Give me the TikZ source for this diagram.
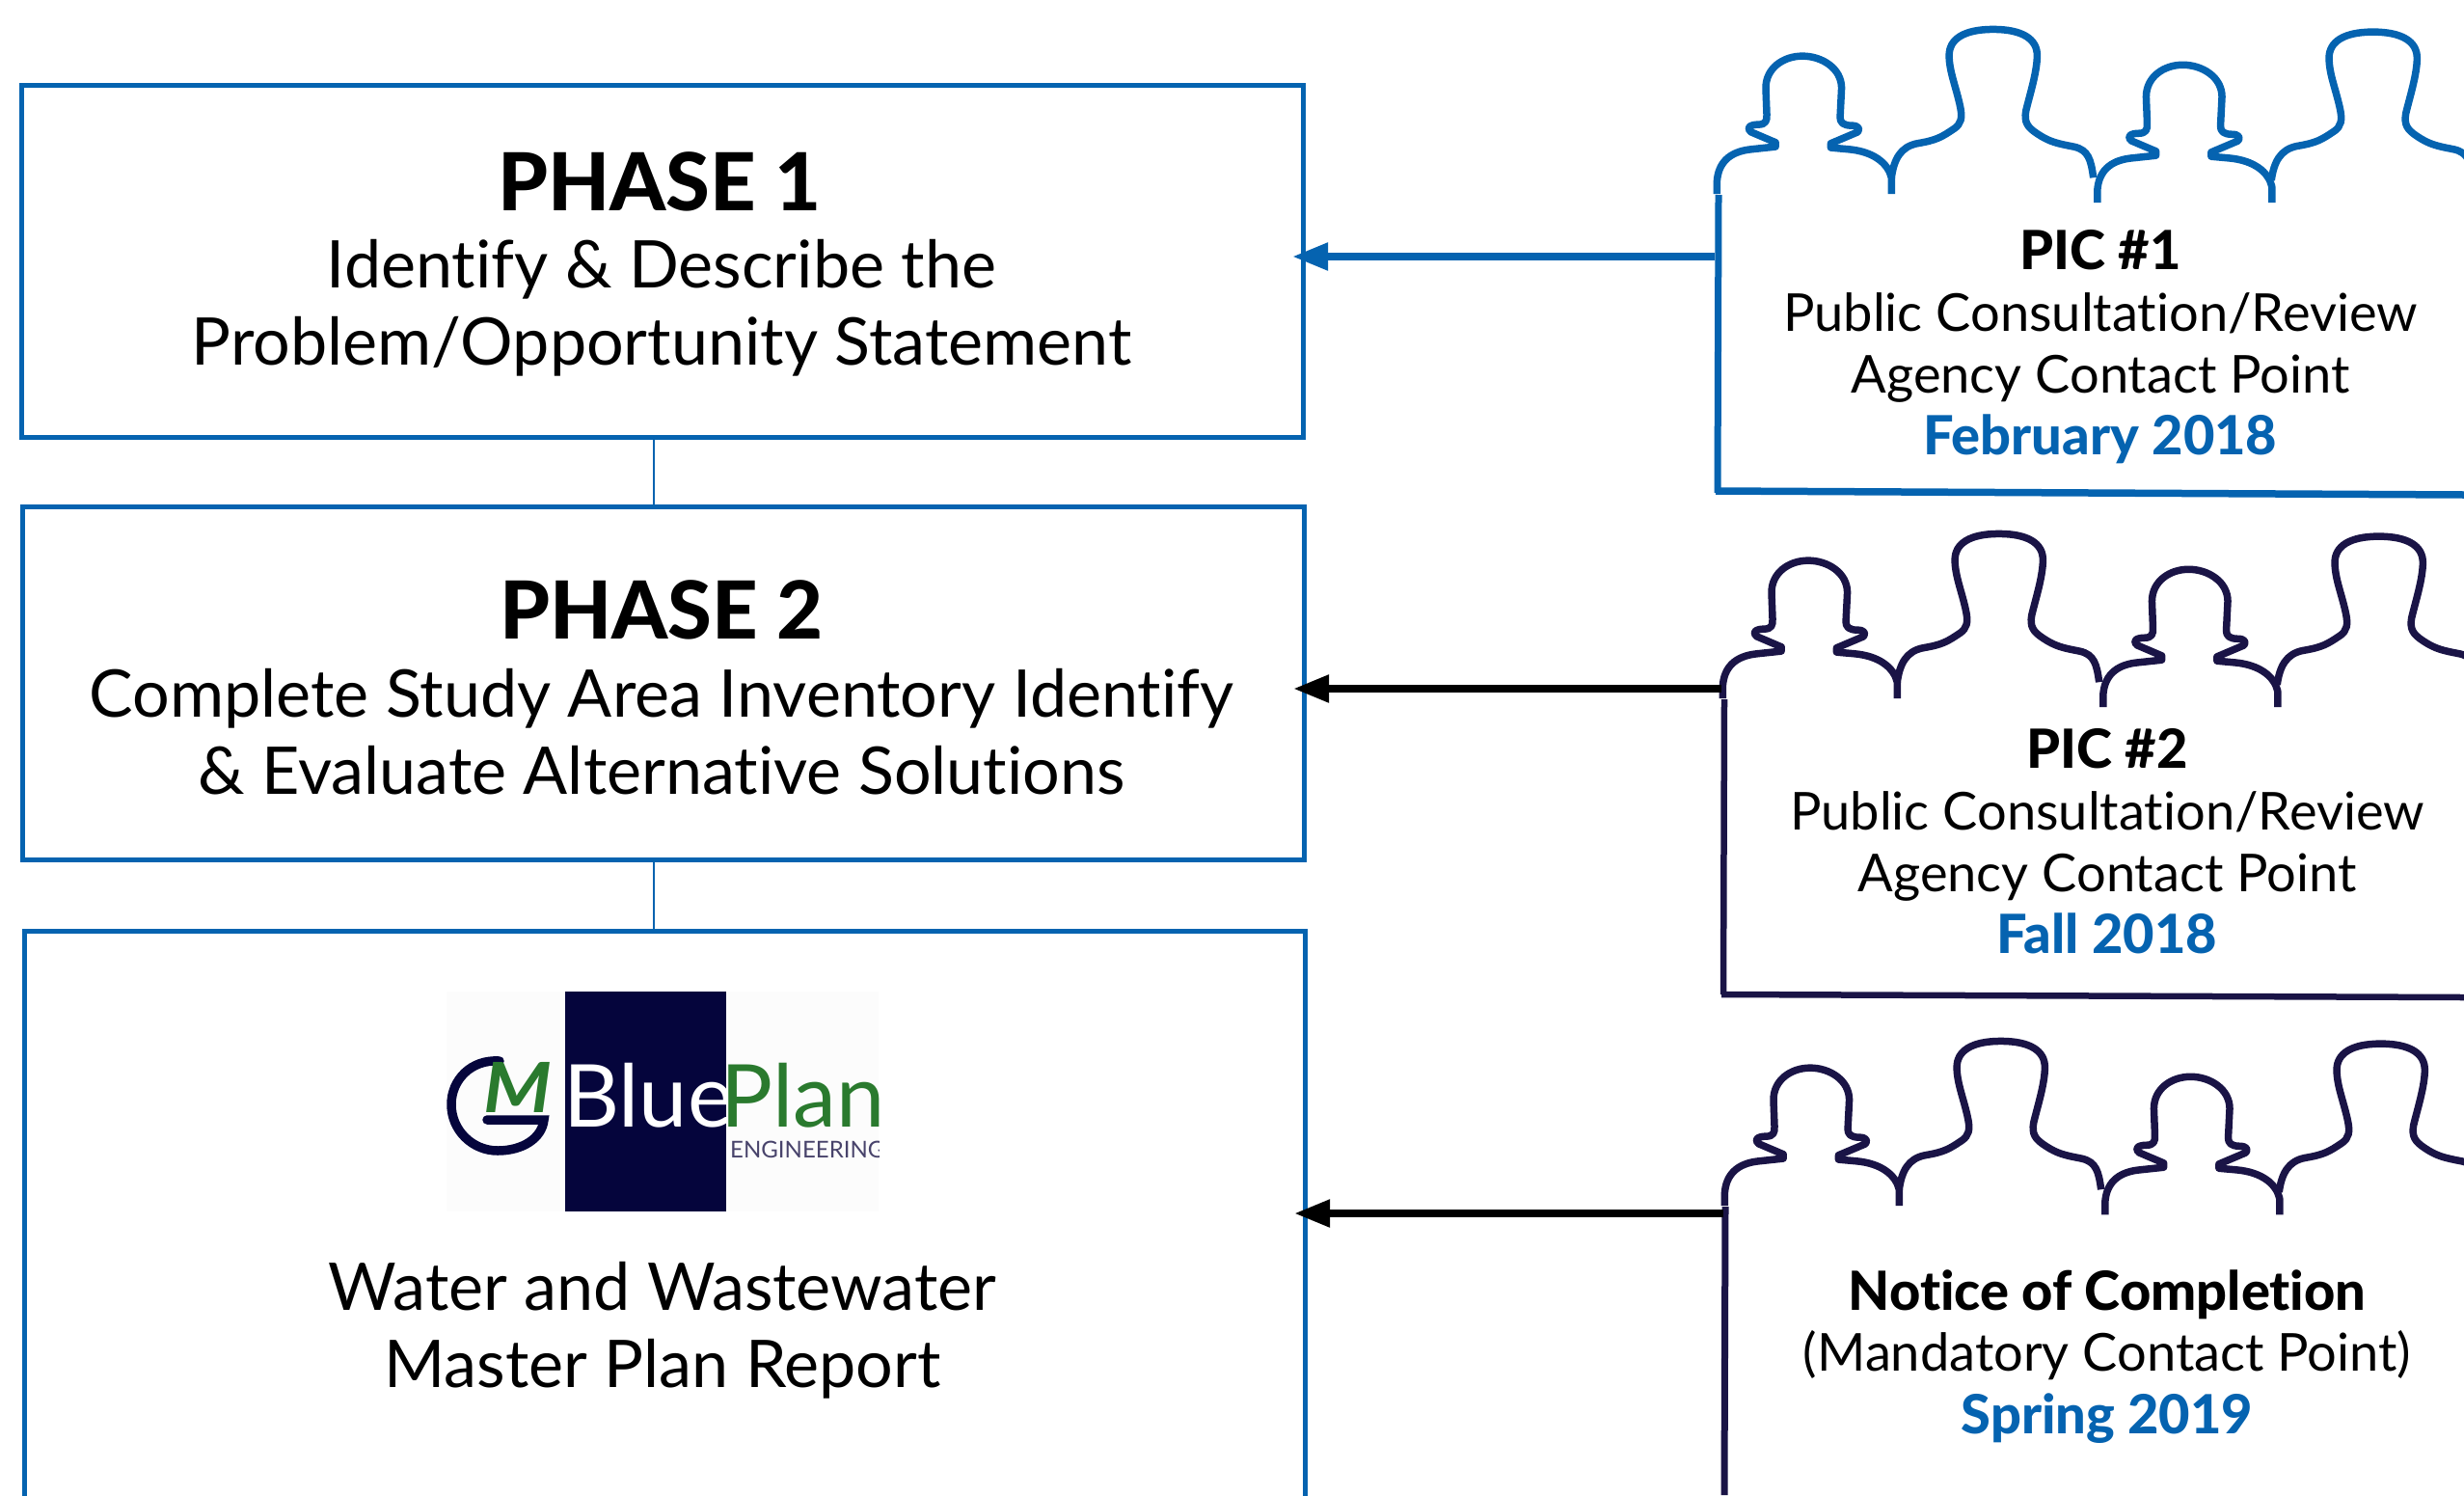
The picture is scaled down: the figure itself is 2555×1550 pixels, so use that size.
\documentclass[tikz,border=0pt]{standalone}
\usepackage{fontspec}
\usetikzlibrary{arrows.meta}
\setmainfont[Ligatures=NoCommon]{Lato}
\newfontfamily\heavyfont[Ligatures=NoCommon]{Lato Heavy}
\definecolor{pblue}{HTML}{0563B0}
\definecolor{pnavy}{HTML}{1A1446}
\definecolor{lnavy}{HTML}{05053C}
\definecolor{lgreen}{HTML}{2A7A2E}
\tikzset{
 phasebox/.style={draw=pblue,line width=5pt,rectangle,inner sep=0pt,fill=white},
 head/.style={anchor=base,font=\fontsize{83}{83}\heavyfont,inner sep=0pt},
 body/.style={anchor=base,font=\fontsize{68.2}{68}\selectfont,inner sep=0pt},
 ctitle/.style={anchor=base,font=\fontsize{56}{56}\heavyfont,inner sep=0pt},
 cbody/.style={anchor=base,font=\fontsize{54.2}{55}\selectfont,inner sep=0pt},
 cdate/.style={anchor=base,font=\fontsize{56}{56}\heavyfont,text=pblue,inner sep=0pt},
 link/.style={draw=pblue,line width=2.5pt},
 arr/.style={line width=8pt,-{Triangle[length=37pt,width=27pt]},shorten >=-14pt},
 person/.style={line width=7.5pt,line join=round,fill=none},
}
\newcommand{\smallp}[2]{%
 \draw[person,shift={(#1,#2)}] (40,595) -- (40,560) .. controls (42,500) and (65,465) .. (110,458) -- (160,450) -- (160,437) -- (110,405) .. controls (100,395) and (105,382) .. (125,382) .. controls (140,382) and (143,370) .. (142,350) -- (140,270) .. controls (140,210) and (175,172) .. (215,172) .. controls (255,172) and (295,210) .. (295,270) -- (292,360) .. controls (292,375) and (298,385) .. (315,385) .. controls (330,385) and (333,395) .. (328,405) -- (273,440) -- (273,453) -- (310,458) .. controls (360,465) and (390,500) .. (397,545) -- (397,595);}
\newcommand{\bigp}[2]{%
 \draw[person,shift={(#1,#2)}] (397,545) .. controls (402,490) and (415,450) .. (450,440) .. controls (490,430) and (500,420) .. (525,395) .. controls (540,380) and (542,360) .. (538,330) .. controls (530,270) and (515,220) .. (515,170) .. controls (515,120) and (545,90) .. (605,90) .. controls (665,90) and (695,120) .. (695,170) .. controls (695,220) and (680,290) .. (672,340) .. controls (668,375) and (675,390) .. (695,410) .. controls (720,435) and (735,440) .. (770,450) .. controls (800,460) and (805,490) .. (810,545);}
\newcommand{\crowd}[3]{%
 \begin{scope}[shift={(#1,#2)},x=.507pt,y=-.338pt,color=#3]
  \smallp{0}{0}\bigp{0}{0}\smallp{778}{27}\bigp{777}{8}
 \end{scope}}
\begin{document}
\begin{tikzpicture}[x=1pt,y=-1pt]
\useasboundingbox (0,0) rectangle (2555,1550);
\clip (0,0) rectangle (2555,1550);
\fill[white] (0,0) rectangle (2555,1550);
\coordinate (rail) at (678,0);
% phase boxes
\node[phasebox,minimum width=1329pt,minimum height=365pt] (box1) at (687,270.5) {};
\node[phasebox,minimum width=1329pt,minimum height=366pt] (box2) at (688,708) {};
\node[phasebox,minimum width=1328pt,minimum height=800pt] (box3) at (689.5,1365) {};
\draw[link] (box1.south -| rail) -- (box2.north -| rail);
\draw[link] (box2.south -| rail) -- (box3.north -| rail);
% phase text
\node[head] (p1) at (684,218) {PHASE 1};
\node[body] (p1a) at (686,298) {Identify \& Describe the};
\node[body] (p1b) at (686,378) {Problem/Opportunity Statement};
\node[head] (p2) at (686,662) {PHASE 2};
\node[body] (p2a) at (686,743.5) {Complete Study Area Inventory Identify};
\node[body] (p2b) at (686,823.5) {\& Evaluate Alternative Solutions};
\node[body] (p3a) at (687,1358.5) {Water and Wastewater};
\node[body] (p3b) at (687,1438.5) {Master Plan Report};
% logo
\fill[black!1] (463,1028) rectangle (911,1256);
\fill[lnavy] (586,1028) rectangle (753,1256);
\draw[lnavy,line width=9.5pt,line cap=round] (518,1100) .. controls (488,1098) and (468,1120) .. (468,1145) .. controls (468,1172) and (490,1193) .. (516,1193) .. controls (542,1193) and (562,1180) .. (564,1161) -- (505,1161);
\node[anchor=base,inner sep=0pt,text=lgreen,xscale=1.12,font=\fontsize{72}{72}\selectfont\bfseries\itshape] (logom) at (537,1153) {M};
\begin{scope}
\clip (463,1028) rectangle (911,1256);
\node[anchor=base west,inner sep=0pt,text=white,font=\fontsize{90}{90}\selectfont] (logob) at (584,1168) {Blue};
\node[anchor=base west,inner sep=0pt,text=lgreen,font=\fontsize{90}{90}\selectfont] (logop) at (747,1168) {Plan};
\node[anchor=base west,inner sep=0pt,text=pnavy!80,font=\fontsize{24}{24}\selectfont] (logoe) at (757,1200) {ENGINEERING};
\end{scope}
% crowds
\crowd{1760}{0}{pblue}
\crowd{1766}{523}{pnavy}
\crowd{1768}{1049}{pnavy}
% frames
\draw[pblue,line width=7pt] (1782,202) -- (1781,511);
\draw[pblue,line width=7.5pt] (1779,509) -- (2555,513);
\draw[pnavy,line width=6.5pt] (1788,725) -- (1787,1031);
\draw[pnavy,line width=6.5pt] (1785,1031) -- (2555,1034);
\draw[pnavy,line width=7pt] (1789,1251) -- (1788,1550);
\coordinate (f1) at (1778,266);
\coordinate (f2) at (1785,714);
\coordinate (f3) at (1787,1258);
% arrows
\draw[arr,pblue] (f1) -- (box1.east |- f1);
\draw[arr,black] (f2) -- (box2.east |- f2);
\draw[arr,black] (f3) -- (box3.east |- f3);
% crowd text
\node[ctitle] (t1) at (2178,279) {PIC \#1};
\node[cbody] (t1a) at (2178,343) {Public Consultation/Review};
\node[cbody] (t1b) at (2178,407) {Agency Contact Point};
\node[cdate] (t1c) at (2178,471) {February 2018};
\node[ctitle] (t2) at (2185,796) {PIC \#2};
\node[cbody] (t2a) at (2185,860) {Public Consultation/Review};
\node[cbody] (t2b) at (2185,924) {Agency Contact Point};
\node[cdate] (t2c) at (2185,988) {Fall 2018};
\node[ctitle] (t3) at (2185,1358) {Notice of Completion};
\node[cbody] (t3a) at (2185,1421) {(Mandatory Contact Point)};
\node[cdate] (t3b) at (2185,1486) {Spring 2019};
\end{tikzpicture}
\end{document}
